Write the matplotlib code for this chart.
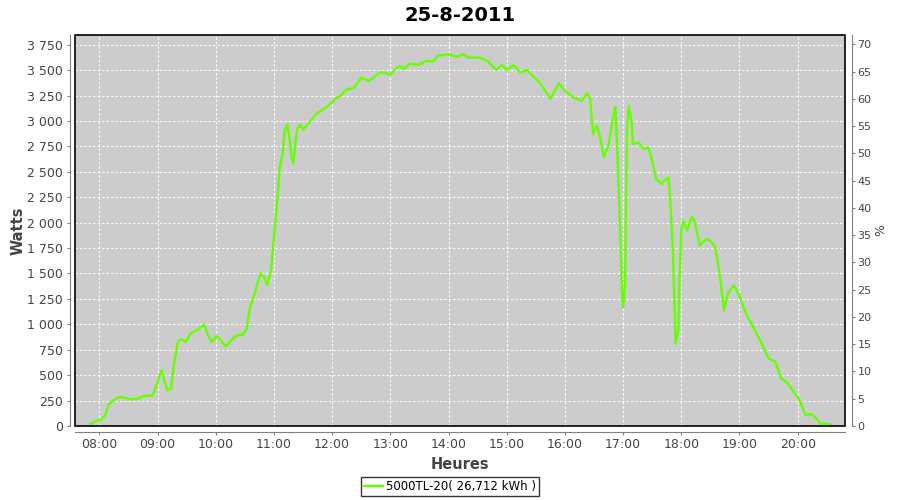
"""Daily production chart for the 5000TL-20 inverter (25-8-2011)."""
import matplotlib
matplotlib.use("Agg")
import matplotlib.pyplot as plt
from matplotlib.patches import Rectangle
from matplotlib.ticker import FuncFormatter, MultipleLocator

TITLE = "25-8-2011"
SERIES_LABEL = "5000TL-20( 26,712 kWh )"

times = [
    "07:51", "07:57", "08:02", "08:06", "08:10", "08:14", "08:21", "08:26", "08:34", "08:40",
    "08:45", "08:55", "08:59", "09:04", "09:10", "09:14", "09:17", "09:21", "09:24", "09:29",
    "09:34", "09:39", "09:43", "09:48", "09:52", "09:56", "10:01", "10:04", "10:10", "10:13",
    "10:18", "10:23", "10:28", "10:32", "10:35", "10:40", "10:46", "10:50", "10:53", "10:57",
    "11:00", "11:04", "11:06", "11:09", "11:11", "11:14", "11:16", "11:18", "11:20", "11:22",
    "11:24", "11:27", "11:30", "11:35", "11:44", "11:49", "11:56", "12:03", "12:10", "12:14",
    "12:23", "12:30", "12:37", "12:42", "12:49", "12:54", "13:00", "13:05", "13:10", "13:14",
    "13:20", "13:29", "13:37", "13:44", "13:49", "14:00", "14:08", "14:15", "14:20", "14:32",
    "14:41", "14:49", "14:55", "15:00", "15:07", "15:14", "15:21", "15:26", "15:34", "15:45",
    "15:54", "16:00", "16:09", "16:17", "16:23", "16:26", "16:29", "16:33", "16:36", "16:40",
    "16:45", "16:49", "16:52", "16:54", "16:57", "16:59", "17:00", "17:02", "17:03", "17:04",
    "17:06", "17:09", "17:10", "17:16", "17:21", "17:26", "17:29", "17:34", "17:40", "17:44",
    "17:47", "17:48", "17:51", "17:53", "17:54", "17:57", "17:58", "18:00", "18:02", "18:06",
    "18:11", "18:14", "18:19", "18:26", "18:30", "18:35", "18:40", "18:44", "18:48", "18:54",
    "18:59", "19:06", "19:14", "19:23", "19:30", "19:37", "19:43", "19:50", "19:57", "20:02",
    "20:08", "20:14", "20:20", "20:23", "20:33",
]
watts = [
    20, 52, 59, 108, 216, 248, 288, 278, 262, 268,
    294, 301, 402, 549, 353, 370, 615, 827, 857, 827,
    909, 935, 958, 997, 893, 827, 883, 860, 785, 811,
    866, 893, 900, 958, 1155, 1300, 1500, 1465, 1383, 1530,
    1857, 2283, 2544, 2675, 2904, 2963, 2838, 2659, 2583, 2773,
    2920, 2963, 2914, 2969, 3074, 3100, 3149, 3215, 3257, 3303,
    3329, 3427, 3394, 3420, 3476, 3476, 3453, 3509, 3541, 3509,
    3564, 3551, 3590, 3584, 3640, 3656, 3630, 3656, 3623, 3623,
    3584, 3502, 3551, 3502, 3548, 3476, 3502, 3450, 3378, 3221,
    3368, 3296, 3231, 3198, 3270, 3215, 2871, 2953, 2855, 2642,
    2757, 3002, 3139, 2708, 1923, 1268, 1170, 1400, 2217, 2936,
    3149, 2969, 2773, 2789, 2724, 2740, 2642, 2430, 2381, 2430,
    2440, 2315, 1792, 1204, 811, 942, 1400, 1923, 2021, 1923,
    2060, 2004, 1776, 1841, 1818, 1759, 1465, 1138, 1302, 1383,
    1302, 1121, 974, 811, 664, 631, 468, 419, 321, 255,
    108, 118, 66, 26, 17,
]
hour_ticks = list(range(8, 21))

GREY_TEXT = "#444444"
AXIS_GREY = "#808080"

plt.rcParams["font.family"] = ["DejaVu Sans"]


def to_hours(hhmm):
    h, m = hhmm.split(":")
    return int(h) + int(m) / 60.0


def space_thousands(v, _pos):
    return f"{int(round(v)):,}".replace(",", " ")


hours = [to_hours(t) for t in times]

fig = plt.figure(figsize=(9, 5), dpi=100)
ax = fig.add_axes([0.0837, 0.148, 0.8552, 0.782])
ax.set_facecolor("#cccccc")

ax.plot(hours, watts, color="#66ff00", lw=1.7, label=SERIES_LABEL, zorder=3)

ax.set_xlim(7.5876, 20.813)
ax.set_ylim(0, 3845)
ax.set_xticks(hour_ticks)
ax.set_xticklabels([f"{h:02d}:00" for h in hour_ticks])
ax.yaxis.set_major_locator(MultipleLocator(250))
ax.yaxis.set_major_formatter(FuncFormatter(space_thousands))
ax.grid(True, color="white", linestyle=(0, (2, 2)), linewidth=0.8)
ax.set_axisbelow(True)

# black frame round the plot area, gray axis lines set slightly outward
ax.add_patch(Rectangle((0, 0), 1, 1, transform=ax.transAxes, fill=False,
                       edgecolor="black", lw=1.2, clip_on=False, zorder=5))
ax.spines["top"].set_visible(False)
ax.spines["right"].set_visible(False)
for side in ("left", "bottom"):
    ax.spines[side].set_position(("outward", 4))
    ax.spines[side].set_color(AXIS_GREY)
ax.tick_params(colors=AXIS_GREY, labelcolor=GREY_TEXT, labelsize=9, length=2, pad=3)

ax.set_xlabel("Heures", fontsize=10.5, color=GREY_TEXT, fontweight="semibold", labelpad=4)
ax.set_ylabel("Watts", fontsize=10.5, color=GREY_TEXT, fontweight="semibold", labelpad=1)
ax.set_title(TITLE, fontsize=14, fontweight="bold", pad=10)

# right hand percentage axis
ax2 = ax.twinx()
ax2.set_ylim(0, 71.7)
ax2.yaxis.set_major_locator(MultipleLocator(5))
for side in ("left", "top", "bottom"):
    ax2.spines[side].set_visible(False)
ax2.spines["right"].set_position(("outward", 5))
ax2.spines["right"].set_color(AXIS_GREY)
ax2.tick_params(colors=AXIS_GREY, labelcolor=GREY_TEXT, labelsize=8, length=2, pad=2)
ax2.set_ylabel("%", fontsize=9, color=GREY_TEXT, labelpad=2)

leg = fig.legend(loc="lower center", bbox_to_anchor=(0.5, 0.004), fontsize=8.5,
                 frameon=True, fancybox=False, handlelength=1.6, handletextpad=0.2,
                 borderpad=0.25, borderaxespad=0.2)
leg.get_frame().set_edgecolor("black")
leg.get_frame().set_linewidth(1.0)

fig.savefig("out.png", dpi=100)
plt.close(fig)
